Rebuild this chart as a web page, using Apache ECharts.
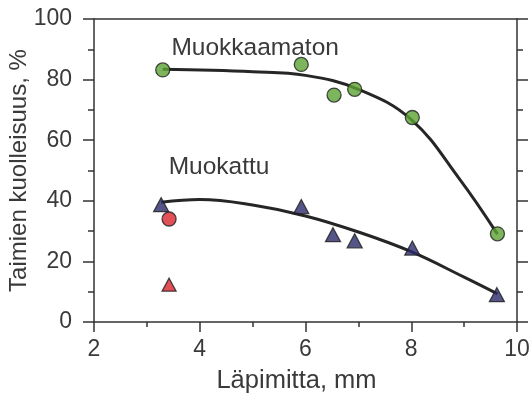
<!DOCTYPE html>
<html><head><meta charset="utf-8">
<script src="https://cdn.jsdelivr.net/npm/echarts@6/dist/echarts.min.js"></script>
<style>html,body{margin:0;padding:0;background:#fff}#c{width:531px;height:397px}</style>
</head><body><div id="c"></div>
<script>
// Observed points
var greenPts = [[3.3,83.2],[5.92,85.0],[6.54,74.9],[6.93,76.8],[8.02,67.5],[9.63,29.1]];
var navyPts = [[3.27,38.7],[5.92,38.1],[6.52,28.8],[6.93,26.8],[8.02,24.4],[9.62,9.0]];
var redCircle = [[3.42,34.0]];
var redTriangle = [[3.42,12.3]];
// Fitted curves
var curveA = [[3.3,83.4],[5.0,82.6],[6.0,81.4],[7.0,76.8],[8.0,66.8],[8.9,47.5],[9.63,29.0]];
var curveB = [[3.27,39.5],[4.0,40.4],[5.0,38.6],[6.0,35.0],[7.0,29.7],[8.0,23.2],[9.0,14.8],[9.63,9.3]];
var labels = [{text:'Muokkaamaton', at:[3.464,90.3]},{text:'Muokattu', at:[3.413,51.1]}];
var xTicks = {min:2, max:10, interval:2};
var yTicks = {min:0, max:100, interval:20};

var txt = '#3a3a3a', ax = '#333';
var font = '"Liberation Sans", Arial, sans-serif';
var chart = echarts.init(document.getElementById('c'), null, {renderer:'canvas'});
var outline = {borderColor:'#1e1e1e', borderWidth:1.3};
chart.setOption({
  animation:false,
  backgroundColor:'#fff',
  grid:{left:94, right:14, top:19, bottom:75, outerBoundsMode:'none', containLabel:false},
  xAxis:[{
    type:'value', min:xTicks.min, max:xTicks.max, interval:xTicks.interval,
    name:'Läpimitta, mm', nameLocation:'middle', nameGap:46, nameMoveOverlap:false,
    nameTextStyle:{fontSize:25.5, color:txt, fontFamily:font, padding:[0,18,0,0]},
    axisLine:{onZero:false, lineStyle:{color:ax, width:1.5}},
    axisTick:{inside:false, length:10, lineStyle:{color:ax, width:1.5}},
    minorTick:{show:true, splitNumber:2, length:5, lineStyle:{color:ax, width:1.5}},
    axisLabel:{fontSize:23, color:txt, margin:16, fontFamily:font},
    splitLine:{show:false}
  },{
    type:'value', position:'top', min:xTicks.min, max:xTicks.max, interval:xTicks.interval,
    axisLine:{onZero:false, lineStyle:{color:ax, width:1.5}},
    axisTick:{show:false}, axisLabel:{show:false}, splitLine:{show:false}
  }],
  yAxis:[{
    type:'value', min:yTicks.min, max:yTicks.max, interval:yTicks.interval,
    name:'Taimien kuolleisuus, %', nameLocation:'middle', nameGap:63, nameMoveOverlap:false,
    nameTextStyle:{fontSize:24, color:txt, fontFamily:font},
    axisLine:{show:true, onZero:false, lineStyle:{color:ax, width:1.5}},
    axisTick:{show:true, inside:false, length:11, lineStyle:{color:ax, width:1.5}},
    minorTick:{show:true, splitNumber:2, length:6, lineStyle:{color:ax, width:1.5}},
    axisLabel:{fontSize:23, color:txt, margin:22, fontFamily:font},
    splitLine:{show:false}
  },{
    type:'value', position:'right', min:yTicks.min, max:yTicks.max, interval:yTicks.interval,
    axisLine:{show:true, onZero:false, lineStyle:{color:ax, width:1.5}},
    axisTick:{show:true, inside:false, length:11, lineStyle:{color:ax, width:1.5}},
    minorTick:{show:true, splitNumber:2, length:6, lineStyle:{color:ax, width:1.5}},
    axisLabel:{show:false}, splitLine:{show:false}
  }],
  series:[
    {type:'line', data:curveA, smooth:0.4, showSymbol:false, lineStyle:{color:'#262626', width:3}, z:2},
    {type:'line', data:curveB, smooth:0.4, showSymbol:false, lineStyle:{color:'#262626', width:3}, z:2},
    {type:'scatter', data:greenPts, symbol:'circle', symbolSize:14, itemStyle:Object.assign({color:'#5ba232'}, outline), z:3},
    {type:'scatter', data:navyPts, symbol:'triangle', symbolSize:[15,14], itemStyle:Object.assign({color:'#2c2a6c'}, outline), z:3},
    {type:'scatter', data:redCircle, symbol:'circle', symbolSize:14, itemStyle:Object.assign({color:'#d9252c'}, outline), z:3},
    {type:'scatter', data:redTriangle, symbol:'triangle', symbolSize:[14,13], itemStyle:Object.assign({color:'#d9252c'}, outline), z:3}
  ]
});
var g = labels.map(function(l){
  var p = chart.convertToPixel({xAxisIndex:0, yAxisIndex:0}, l.at);
  return {type:'text', x:p[0], y:p[1], style:{text:l.text, fontSize:24.5, fill:txt, fontFamily:font, verticalAlign:'middle', align:'left'}};
});
chart.setOption({graphic:g});
</script></body></html>
